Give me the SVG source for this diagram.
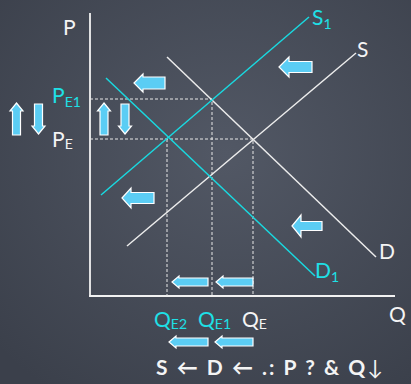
<svg xmlns="http://www.w3.org/2000/svg" width="411" height="384" viewBox="0 0 411 384">
<defs>
<radialGradient id="bg" cx="0.55" cy="0.4" r="0.75">
<stop offset="0" stop-color="#525865"/>
<stop offset="1" stop-color="#3b404b"/>
</radialGradient>
<style>
.ax{stroke:#f2f2f2;stroke-width:1.8;fill:none}
.dot{stroke:#e8e8e8;stroke-width:1;stroke-dasharray:3 2;fill:none}
.w{stroke:#ececec;stroke-width:1.5;fill:none}
.c{stroke:#19d9e0;stroke-width:1.5;fill:none}
.arr{fill:#5bcdf4;stroke:#ffffff;stroke-width:1.2;stroke-linejoin:miter}
.t{font-family:Lato,"DejaVu Sans",sans-serif;font-size:21px}
.tw{fill:#f4f4f4}
.tc{fill:#1ee0e6}
.sub{font-size:14px}
.b{font-family:Lato,"DejaVu Sans",sans-serif;font-size:21px;font-weight:bold;fill:#f4f4f4}
</style>
</defs>
<rect width="411" height="384" fill="url(#bg)"/>

<g id="axes">
<line class="ax" x1="90" y1="13" x2="90" y2="296"/>
<line class="ax" x1="89" y1="296" x2="395" y2="296"/>
</g>

<g id="connectors">
<polyline class="dot" points="90,99 212,99 212,296"/>
<polyline class="dot" points="90,139 253,139 253,296"/>
<line class="dot" x1="167" y1="139" x2="167" y2="296"/>
<line id="S" class="w" x1="127" y1="246" x2="356" y2="53"/>
<line id="D" class="w" x1="167" y1="57" x2="376" y2="257"/>
<line id="S1" class="c" x1="101" y1="195" x2="309" y2="17"/>
<line id="D1" class="c" x1="106" y1="78" x2="315" y2="276"/>
</g>

<g id="arrows">
<path class="arr" d="M134 83 L143 74 L143 77 L165 77 L165 89 L143 89 L143 92 Z"/>
<path class="arr" d="M279 67 L289 57 L289 61.5 L312 61.5 L312 72.5 L289 72.5 L289 77 Z"/>
<path class="arr" d="M122 198 L131 188 L131 192.5 L154 192.5 L154 203.5 L131 203.5 L131 208 Z"/>
<path class="arr" d="M292 226 L301 215 L301 221.5 L322 221.5 L322 230.5 L301 230.5 L301 237 Z"/>
<path class="arr" d="M172 282 L179 276 L179 278 L208 278 L208 286 L179 286 L179 288 Z"/>
<path class="arr" d="M216 282 L223 276 L223 278 L253 278 L253 286 L223 286 L223 288 Z"/>
<path class="arr" d="M169 342 L176 336 L176 338 L208 338 L208 346 L176 346 L176 348 Z"/>
<path class="arr" d="M215 342 L222 336 L222 338 L253 338 L253 346 L222 346 L222 348 Z"/>
<path class="arr" d="M16.5 103 L23 111 L20.5 111 L20.5 135 L12.5 135 L12.5 111 L10 111 Z"/>
<path class="arr" d="M38.5 134 L45 126 L42.5 126 L42.5 104 L34.5 104 L34.5 126 L32 126 Z"/>
<path class="arr" d="M104 103 L110.5 111 L108 111 L108 135 L100 135 L100 111 L97.5 111 Z"/>
<path class="arr" d="M125 134 L131.5 126 L129 126 L129 104 L121 104 L121 126 L118.5 126 Z"/>
</g>

<g id="labels">
<text class="t tw" x="63" y="35">P</text>
<text class="t tc" x="52" y="103">P<tspan class="sub" dy="4">E1</tspan></text>
<text class="t tw" x="52" y="147">P<tspan class="sub" dy="2">E</tspan></text>
<text class="t tc" x="312" y="25">S<tspan class="sub" dy="4">1</tspan></text>
<text class="t tw" x="357" y="57">S</text>
<text class="t tw" x="379" y="259">D</text>
<text class="t tc" x="315" y="278">D<tspan class="sub" dy="4">1</tspan></text>
<text class="t tw" x="389" y="322">Q</text>
<text class="t tc" x="154" y="327">Q<tspan class="sub" dy="2">E2</tspan></text>
<text class="t tc" x="198" y="327">Q<tspan class="sub" dy="2">E1</tspan></text>
<text class="t tw" x="242" y="327">Q<tspan class="sub" dy="2">E</tspan></text>
<text class="b" x="156" y="375" textLength="227" lengthAdjust="spacing">S ← D ← .: P ? &amp; Q<tspan font-weight="normal">↓</tspan></text>
</g>
</svg>
